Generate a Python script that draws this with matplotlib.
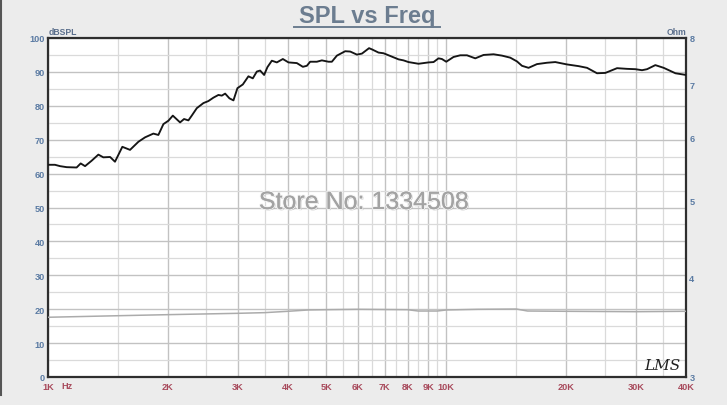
import matplotlib
matplotlib.use("Agg")
import matplotlib.pyplot as plt
from matplotlib.ticker import FixedLocator, NullFormatter, FixedFormatter
import matplotlib.patheffects as pe
from matplotlib.lines import Line2D

# ---------------- data ----------------
spl_freq = [1000, 1041, 1072, 1114, 1180, 1208, 1239, 1287, 1338, 1377, 1432, 1473,
            1537, 1607, 1687, 1753, 1839, 1893, 1949, 2006, 2058, 2146, 2196, 2252,
            2296, 2364, 2456, 2528, 2602, 2679, 2732, 2785, 2855, 2922, 2990, 3085,
            3186, 3268, 3345, 3409, 3489, 3556, 3648, 3755, 3888, 4017, 4216, 4365,
            4467, 4553, 4733, 4872, 5062, 5162, 5314, 5576, 5740, 5966, 6142, 6400,
            6520, 6760, 6959, 7234, 7590, 7812, 8040, 8518, 9028, 9293, 9565, 9754,
            10000, 10430, 10845, 11273, 11828, 12409, 13149, 13804, 14480, 15051,
            15494, 16096, 16898, 17906, 18787, 20108, 21501, 22570, 23911, 25090,
            26850, 28444, 29846, 31023, 31937, 33500, 35157, 37623, 40000]
spl_db = [62.6, 62.6, 62.2, 61.9, 61.8, 63.0, 62.2, 63.8, 65.6, 64.8, 64.9, 63.5,
          67.9, 67.0, 69.4, 70.7, 71.8, 71.4, 74.6, 75.6, 77.1, 75.1, 76.1, 75.7,
          77.1, 79.3, 80.8, 81.4, 82.4, 83.2, 83.0, 83.6, 82.2, 81.6, 85.2, 86.3,
          88.7, 88.1, 90.1, 90.4, 89.1, 91.4, 93.3, 92.8, 93.8, 92.8, 92.6, 91.5,
          91.8, 93.0, 93.0, 93.4, 93.0, 93.0, 94.8, 96.1, 96.0, 95.1, 95.4, 97.0,
          96.6, 95.7, 95.5, 94.7, 93.7, 93.4, 92.9, 92.4, 92.8, 92.9, 94.0, 93.8,
          93.0, 94.4, 94.9, 94.9, 94.0, 95.0, 95.2, 94.8, 94.2, 93.1,
          91.8, 91.2, 92.3, 92.7, 92.9, 92.2, 91.7, 91.2, 89.6, 89.7,
          91.1, 90.9, 90.8, 90.5, 90.8, 92.0, 91.2, 89.6, 89.1]

imp_freq = [1000, 1500, 2000, 3000, 3500, 4000, 4500, 5000, 6000, 8000, 8500,
            9500, 10000, 12000, 15000, 16000, 20000, 30000, 40000]
imp_ohm = [3.566, 3.582, 3.593, 3.607, 3.614, 3.628, 3.642, 3.645, 3.649, 3.645,
           3.631, 3.631, 3.642, 3.649, 3.652, 3.631, 3.628, 3.624, 3.628]

x_major = [1000, 2000, 3000, 4000, 5000, 6000, 7000, 8000, 9000, 10000,
           20000, 30000, 40000]
x_labels = ["1K", "2K", "3K", "4K", "5K", "6K", "7K", "8K", "9K", "10K",
            "20K", "30K", "40K"]
x_minor = [1500, 2500, 3500, 4500, 5500, 6500, 7500, 8500, 9500,
           15000, 25000, 35000]
db_major = [0, 10, 20, 30, 40, 50, 60, 70, 80, 90, 100]
db_minor = [5, 15, 25, 35, 45, 55, 65, 75, 85, 95]
ohm_ticks = [3, 4, 5, 6, 7, 8]

# ---------------- figure ----------------
W, H = 727, 406
fig = plt.figure(figsize=(W / 100, H / 100), dpi=100, facecolor="#ececec")
FONT = "Liberation Sans"

def fx(px):
    return px / W

def fy(py):
    return 1 - py / H

L, R, T, B = 48, 686, 39, 378
ax = fig.add_axes([fx(L), fy(B), fx(R) - fx(L), fy(T) - fy(B)])
ax.set_facecolor("white")
ax.set_xscale("log")
ax.set_xlim(1000, 40000)
ax.set_ylim(0, 100)

ax.xaxis.set_major_locator(FixedLocator(x_major))
ax.xaxis.set_major_formatter(FixedFormatter(x_labels))
ax.xaxis.set_minor_locator(FixedLocator(x_minor))
ax.xaxis.set_minor_formatter(NullFormatter())
ax.yaxis.set_major_locator(FixedLocator(db_major))
ax.yaxis.set_minor_locator(FixedLocator(db_minor))

ax.grid(which="major", color="#c2c2c2", linewidth=1.0)
ax.grid(which="minor", color="#dadada", linewidth=0.9)
ax.set_axisbelow(True)

ax.tick_params(which="both", length=0)
ax.tick_params(axis="x", pad=3.6, labelsize=6.6, labelcolor="#a84a5c")
ax.tick_params(axis="y", pad=2.2, labelsize=6.6, labelcolor="#5b7ba3")
for lab in ax.get_xticklabels() + ax.get_yticklabels():
    lab.set_fontfamily(FONT)
    lab.set_fontweight("bold")

for sp in ax.spines.values():
    sp.set_color("#2e2e2e")
    sp.set_linewidth(1.6)

ax.plot(spl_freq, spl_db, color="#151515", linewidth=1.35, zorder=5)

ax2 = ax.twinx()
ax2.set_yscale("log")
ax2.set_ylim(3, 8)
ax2.yaxis.set_major_locator(FixedLocator(ohm_ticks))
ax2.yaxis.set_major_formatter(FixedFormatter([str(t) for t in ohm_ticks]))
ax2.yaxis.set_minor_locator(FixedLocator([]))
ax2.yaxis.set_minor_formatter(NullFormatter())
ax2.tick_params(which="both", length=0, pad=2.4, labelsize=6.6, labelcolor="#5b7ba3")
for lab in ax2.get_yticklabels():
    lab.set_fontfamily(FONT)
    lab.set_fontweight("bold")
for sp in ax2.spines.values():
    sp.set_visible(False)
ax2.plot(imp_freq, imp_ohm, color="#ababab", linewidth=1.1, zorder=4)

# axis captions
fig.text(fx(48.5), fy(35), "dBSPL", fontsize=6.2, fontweight="bold", family=FONT,
         color="#5b6f8c", ha="left", va="baseline")
fig.text(fx(686), fy(35), "Ohm", fontsize=6.2, fontweight="bold", family=FONT,
         color="#5b6f8c", ha="right", va="baseline")
fig.text(fx(61), fy(386.5), "Hz", fontsize=6.6, fontweight="bold", family=FONT,
         color="#a84a5c", ha="left", va="center")

# title with underline
fig.text(fx(367), fy(23), "SPL vs Freq", fontsize=17, fontweight="bold", family=FONT,
         color="#6c7d90", ha="center", va="baseline")
fig.add_artist(Line2D([fx(294), fx(440)], [fy(28), fy(28)], color="#6c7d90",
                      linewidth=1.4, transform=fig.transFigure))

# watermark
fig.text(fx(364), fy(203), "Store No: 1334508", fontsize=18, family=FONT,
         color="#a3a3a3", ha="center", va="center", zorder=10,
         path_effects=[pe.withSimplePatchShadow(offset=(0.8, -0.8), shadow_rgbFace="#808080", alpha=0.5),
                       pe.withStroke(linewidth=1.5, foreground="#f4f4f4"), pe.Normal()])

# logo
fig.text(fx(662), fy(366), "LMS", fontsize=11, family="DejaVu Serif", style="italic",
         color="#202020", ha="center", va="center", zorder=10)

# left frame border of the screenshot
fig.add_artist(Line2D([fx(1), fx(1)], [fy(0), fy(396)], color="#555555",
                      linewidth=1.5, transform=fig.transFigure))

fig.savefig("out.png", dpi=100, facecolor=fig.get_facecolor())
